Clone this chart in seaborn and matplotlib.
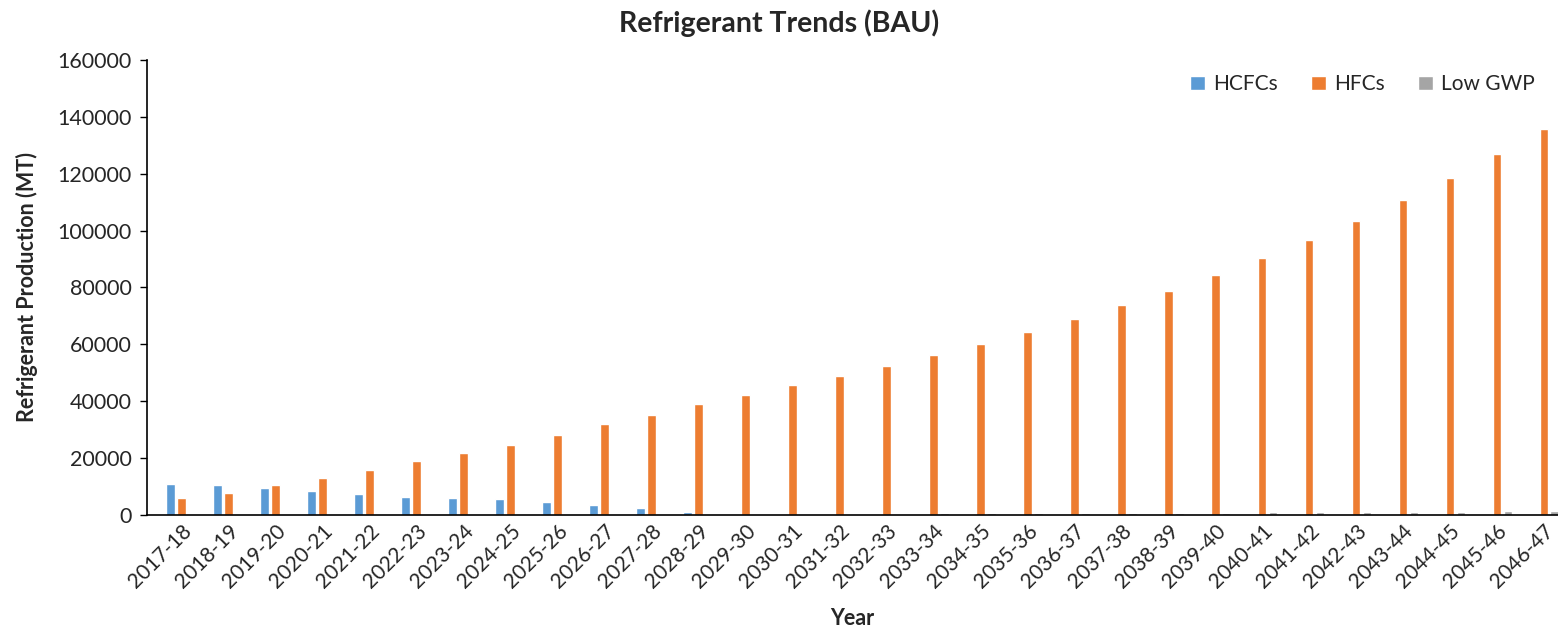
import seaborn as sns
import matplotlib.pyplot as plt
import pandas as pd

# Data (MT)
years = ['2017-18', '2018-19', '2019-20', '2020-21', '2021-22', '2022-23', '2023-24', '2024-25',
         '2025-26', '2026-27', '2027-28', '2028-29', '2029-30', '2030-31', '2031-32', '2032-33',
         '2033-34', '2034-35', '2035-36', '2036-37', '2037-38', '2038-39', '2039-40', '2040-41',
         '2041-42', '2042-43', '2043-44', '2044-45', '2045-46', '2046-47']
hcfcs = [10900, 10400, 9500, 8400, 7500, 6400, 6000, 5500, 4500, 3400, 2300, 1100, 500, 300,
         250, 200, 180, 160, 140, 120, 100, 90, 80, 70, 60, 50, 40, 30, 20, 10]
hfcs = [6000, 7800, 10400, 13100, 15900, 18900, 21700, 24500, 28000, 31900, 35200, 39000, 42200,
        45800, 49000, 52400, 56200, 60100, 64300, 68800, 73700, 78900, 84300, 90400, 96700,
        103500, 110700, 118600, 126900, 135800]
low_gwp = [0, 0, 0, 0, 0, 50, 80, 120, 160, 200, 250, 300, 350, 400, 450, 500, 550, 600, 650, 700,
           750, 800, 850, 900, 950, 1000, 1050, 1150, 1250, 1350]
series = ['HCFCs', 'HFCs', 'Low GWP']
colors = {'HCFCs': '#5B9BD5', 'HFCs': '#ED7D31', 'Low GWP': '#A5A5A5'}

df = pd.DataFrame({'Year': years, 'HCFCs': hcfcs, 'HFCs': hfcs, 'Low GWP': low_gwp})
df = df.melt(id_vars='Year', var_name='Refrigerant', value_name='Production')

sns.set_style("white")
plt.rcParams['font.family'] = ['Lato', 'DejaVu Sans']

fig = plt.figure(figsize=(15.58, 6.36), dpi=100)
ax = fig.add_axes([0.0944, 0.1903, 0.9056, 0.7154])

sns.barplot(data=df, x='Year', y='Production', hue='Refrigerant', hue_order=series,
            palette=colors, width=0.7, gap=0.2, saturation=1, ax=ax)

ax.set_xlim(-0.74, 29.3)
ax.set_ylim(0, 160000)
ax.set_yticks(range(0, 160001, 20000))
ax.tick_params(axis='y', labelsize=15.5, length=5, width=1, color='black', direction='out', left=True, pad=6)
ax.tick_params(axis='x', labelsize=15, length=0, pad=4)
plt.setp(ax.get_xticklabels(), rotation=45, ha='right', rotation_mode='anchor')

for side in ['top', 'right']:
    ax.spines[side].set_visible(False)
for side in ['left', 'bottom']:
    ax.spines[side].set_color('black')
    ax.spines[side].set_linewidth(1.2)

ax.set_xlabel('Year', fontsize=15.5, fontweight='bold', labelpad=12)
ax.set_ylabel('Refrigerant Production (MT)', fontsize=15.5, fontweight='bold', labelpad=14)
fig.suptitle('Refrigerant Trends (BAU)', fontsize=20.5, fontweight='bold', y=0.985)

ax.legend(loc='upper right', ncol=3, frameon=False, fontsize=15, handlelength=0.7,
          handleheight=0.7, handletextpad=0.4, columnspacing=1.6, bbox_to_anchor=(0.997, 1.01))

fig.savefig('out.png', dpi=100)
